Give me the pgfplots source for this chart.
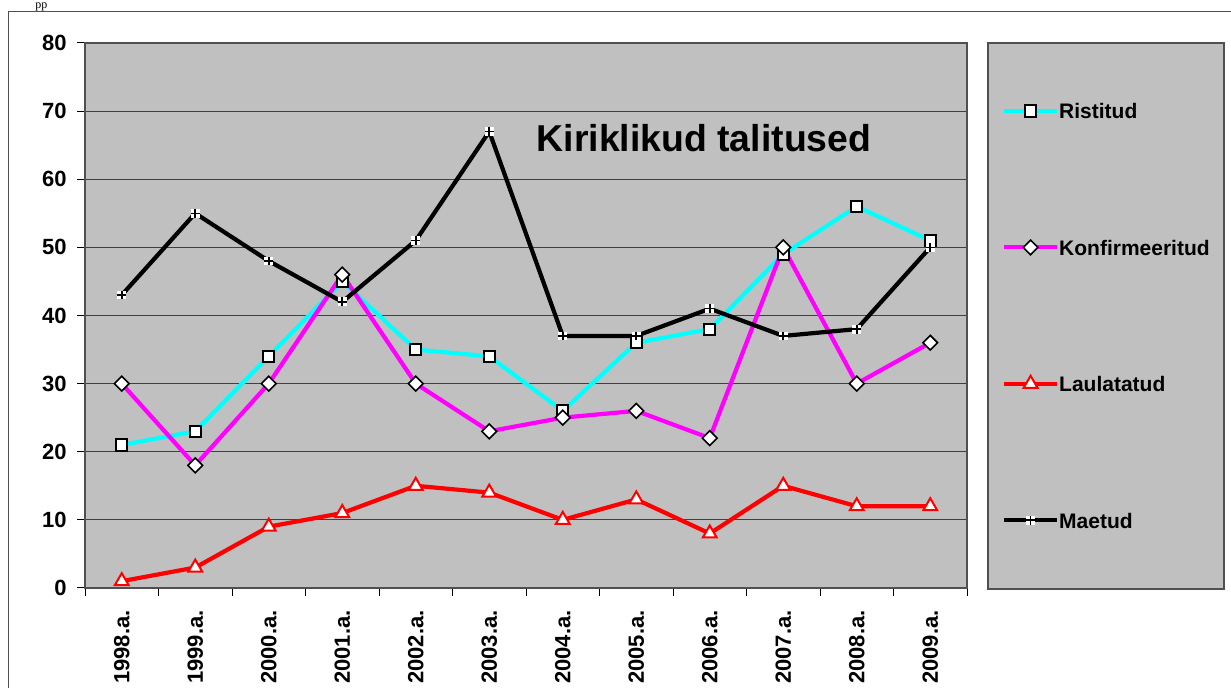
\documentclass[border=0pt]{standalone}
\usepackage{pgfplots}
\pgfplotsset{compat=1.18}
\usepackage{fontspec}
\setmainfont{Liberation Sans}
\newfontfamily\seriffont{Liberation Serif}
\definecolor{plotgray}{RGB}{192,192,192}
\definecolor{gridc}{RGB}{64,64,64}
\definecolor{boxc}{RGB}{80,80,80}
\definecolor{cyanx}{RGB}{0,255,255}
\definecolor{magx}{RGB}{255,0,255}
\definecolor{redx}{RGB}{255,0,0}
\pgfdeclareplotmark{wplus}{%
  \pgfpathrectangle{\pgfqpoint{-\pgfplotmarksize}{-\pgfplotmarksize}}{\pgfqpoint{2\pgfplotmarksize}{2\pgfplotmarksize}}%
  \pgfsetfillcolor{white}\pgfusepath{fill}%
  \pgfsetlinewidth{0.8pt}\pgfsetstrokecolor{black}%
  \pgfpathmoveto{\pgfqpoint{-\pgfplotmarksize}{0pt}}\pgfpathlineto{\pgfqpoint{\pgfplotmarksize}{0pt}}%
  \pgfpathmoveto{\pgfqpoint{0pt}{-\pgfplotmarksize}}\pgfpathlineto{\pgfqpoint{0pt}{\pgfplotmarksize}}%
  \pgfusepath{stroke}}
\pgfplotstableread{
x Ristitud Konf Laul Maetud
0 21 30 1 43
1 23 18 3 55
2 34 30 9 48
3 45 46 11 42
4 35 30 15 51
5 34 23 14 67
6 26 25 10 37
7 36 26 13 37
8 38 22 8 41
9 49 50 15 37
10 56 30 12 38
11 51 36 12 50
}\datatable
\begin{document}
\begin{tikzpicture}
\clip (0,0) rectangle (615.5pt,344pt);
\path[use as bounding box] (0,0) rectangle (615.5pt,344pt);
\node[anchor=base west, inner sep=0pt, font=\seriffont\fontsize{6}{7}\selectfont] at (17.5pt,339.5pt) {pp};
% outer frame
\draw[boxc, line width=0.5pt] (4pt,-1pt) -- (4pt,338pt) -- (620pt,338pt);
% legend box
\draw[boxc, fill=plotgray, line width=0.6pt] (494pt,49.5pt) rectangle (612pt,322.5pt);
\begin{axis}[
  at={(42.5pt,50pt)}, anchor=south west,
  scale only axis, width=441pt, height=272.5pt,
  xmin=-0.5, xmax=11.5, ymin=0, ymax=80,
  axis background/.style={fill=plotgray},
  axis line style={boxc, line width=0.6pt},
  xtick={0,...,11},
  xticklabels={1998.a.,1999.a.,2000.a.,2001.a.,2002.a.,2003.a.,2004.a.,2005.a.,2006.a.,2007.a.,2008.a.,2009.a.},
  minor xtick={-0.5,0.5,...,11.5},
  major x tick style={draw=none},
  minor x tick style={black, line width=0.5pt},
  minor tick length=4pt,
  ytick={0,10,...,80},
  major tick length=4pt,
  y tick style={black, line width=0.5pt},
  tick align=outside,
  xtick pos=bottom, ytick pos=left,
  ymajorgrids, grid style={gridc, line width=0.5pt},
  /pgf/number format/assume math mode=true,
  ticklabel style={font=\bfseries\fontsize{11}{13}\selectfont},
  xticklabel style={rotate=90, anchor=east, inner sep=0pt, xshift=-7pt},
  yticklabel style={anchor=east, inner sep=0pt, xshift=-5pt},
  clip=false,
  legend style={at={(1,1)}, anchor=north west, xshift=17.5pt, yshift=-30pt,
    draw=none, fill=none, inner sep=0pt, outer sep=0pt, row sep=60.2pt,
    font=\bfseries\fontsize{10.5}{12}\selectfont,
    nodes={inner sep=0pt, text height=8pt, text depth=0pt},
    /tikz/every even column/.style={column sep=3pt}},
  legend cell align=left,
  legend image code/.code={\draw[mark repeat=2,mark phase=2,#1] plot coordinates {(0pt,0pt) (13.25pt,0pt) (26.5pt,0pt)};},
  every axis plot/.append style={line width=2.1pt},
]
\addplot[cyanx, mark=square*, mark size=2.8pt, mark options={fill=white, draw=black, line width=1pt}] table[x=x, y=Ristitud] {\datatable};
\addlegendentry{Ristitud}
\addplot[magx, mark=square*, mark size=2.6pt, mark options={rotate=45, fill=white, draw=black, line width=0.8pt}] table[x=x, y=Konf] {\datatable};
\addlegendentry{Konfirmeeritud}
\addplot[redx, mark=triangle*, mark size=4pt, mark options={fill=white, draw=redx, line width=1pt}] table[x=x, y=Laul] {\datatable};
\addlegendentry{Laulatatud}
\addplot[black, mark=wplus, mark size=2.2pt, mark options={line width=0.8pt}] table[x=x, y=Maetud] {\datatable};
\addlegendentry{Maetud}
\end{axis}
\node[anchor=base, inner sep=0pt, font=\bfseries\fontsize{18.7}{22}\selectfont] at (352pt,268pt) {Kiriklikud talitused};
\end{tikzpicture}
\end{document}
